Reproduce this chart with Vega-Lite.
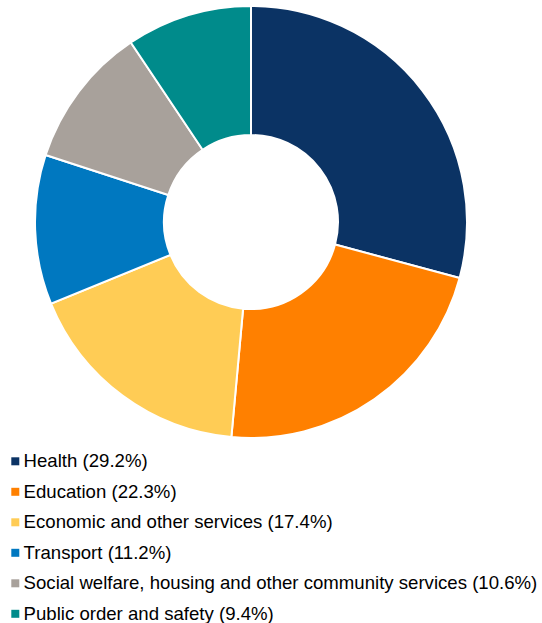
{
  "$schema": "https://vega.github.io/schema/vega-lite/v6.json",
  "autosize": "none",
  "width": 502,
  "height": 444,
  "padding": {"left": 0, "top": 0, "right": 40, "bottom": 179},
  "background": "white",
  "config": {"view": {"stroke": null}},
  "data": {
    "values": [
      {"category": "Health (29.2%)", "pct": 29.2},
      {"category": "Education (22.3%)", "pct": 22.3},
      {"category": "Economic and other services (17.4%)", "pct": 17.4},
      {"category": "Transport (11.2%)", "pct": 11.2},
      {"category": "Social welfare, housing and other community services (10.6%)", "pct": 10.6},
      {"category": "Public order and safety (9.4%)", "pct": 9.4}
    ]
  },
  "mark": {"type": "arc", "outerRadius": 216, "innerRadius": 87, "stroke": "white", "strokeWidth": 2},
  "encoding": {
    "theta": {"field": "pct", "type": "quantitative", "stack": true},
    "order": {"field": "pct", "type": "quantitative", "sort": "descending"},
    "color": {
      "field": "category",
      "type": "nominal",
      "scale": {
        "domain": [
          "Health (29.2%)",
          "Education (22.3%)",
          "Economic and other services (17.4%)",
          "Transport (11.2%)",
          "Social welfare, housing and other community services (10.6%)",
          "Public order and safety (9.4%)"
        ],
        "range": ["#0b3364", "#ff8000", "#ffcc55", "#0078c0", "#a8a19b", "#008b8b"]
      },
      "legend": {
        "title": null,
        "orient": "none",
        "legendX": 6,
        "legendY": 452,
        "padding": 0,
        "symbolType": "square",
        "symbolSize": 64,
        "symbolStrokeWidth": 0,
        "labelFont": "Liberation Sans",
        "labelFontSize": 18.6,
        "labelColor": "#000000",
        "labelOffset": -1,
        "labelLimit": 600,
        "rowPadding": 11.5
      }
    }
  }
}
